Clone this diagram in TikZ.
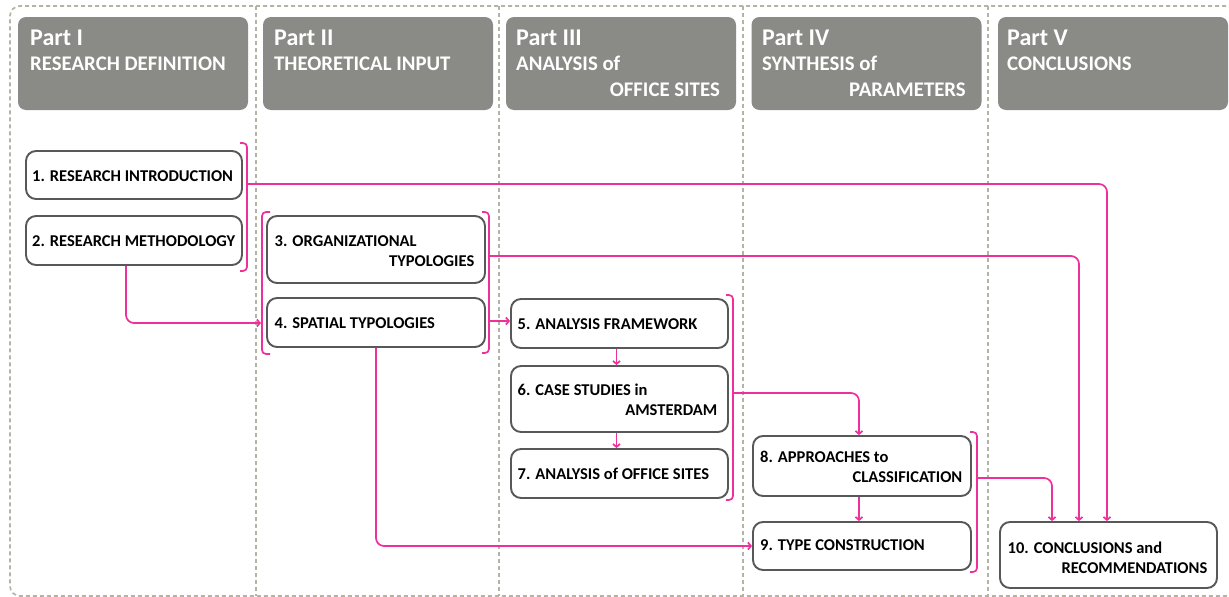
\documentclass[tikz,border=0pt]{standalone}
\usepackage{fontspec}
\setmainfont{Carlito}
\usetikzlibrary{arrows.meta}
\definecolor{hdr}{RGB}{138,138,134}
\definecolor{pinkline}{RGB}{238,48,155}
\definecolor{sepgray}{RGB}{180,180,166}
\definecolor{boxline}{RGB}{88,88,88}

\begin{document}
\begin{tikzpicture}[x=1pt,y=-1pt,
  header/.style={fill=hdr, rounded corners=8pt, minimum width=230pt, minimum height=93pt, inner sep=0pt},
  stepbox/.style={draw=boxline, line width=1.9pt, fill=white, rounded corners=10pt, inner sep=0pt},
  parttitle/.style={text=white, font=\bfseries\fontsize{24}{28}\selectfont, inner sep=0pt},
  partsub/.style={text=white, font=\bfseries\fontsize{20.8}{24}\selectfont, inner sep=0pt},
  lbl/.style={text=black, font=\bfseries\fontsize{16.5}{19}\selectfont, inner sep=0pt},
  sepline/.style={draw=sepgray, line width=1.7pt, dash pattern=on 4pt off 3pt},
  brk/.style={draw=pinkline, line width=1.7pt, rounded corners=4pt},
  link/.style={draw=pinkline, line width=1.7pt, rounded corners=8pt, -{Straight Barb[length=3pt,width=7pt]}}]

\useasboundingbox (0,0) rectangle (1229,597);

% frame and column separators
\draw[sepline, rounded corners=10pt] (1240,6) -- (10,6) -- (10,596) -- (1240,596);
\foreach \sx in {256,499,743,988}
  \draw[sepline] (\sx,6) -- (\sx,596);

% part headers
\node[header] (h1) at (133,63.5) {};
\node[header] (h2) at (378,63.5) {};
\node[header] (h3) at (621,63.5) {};
\node[header] (h4) at (866.5,63.5) {};
\node[header] (h5) at (1113,63.5) {};

\node[parttitle, anchor=base west] (p1) at (30,45) {Part I};
\node[partsub, anchor=base west] (s1) at (30,70) {RESEARCH DEFINITION};
\node[parttitle, anchor=base west] (p2) at (274,45) {Part II};
\node[partsub, anchor=base west] (s2) at (274,70) {THEORETICAL INPUT};
\node[parttitle, anchor=base west] (p3) at (516,45) {Part III};
\node[partsub, anchor=base west] (s3) at (516,70) {ANALYSIS of};
\node[partsub, anchor=base east] (s3b) at (720,96) {OFFICE SITES};
\node[parttitle, anchor=base west] (p4) at (762,45) {Part IV};
\node[partsub, anchor=base west] (s4) at (762,70) {SYNTHESIS of};
\node[partsub, anchor=base east] (s4b) at (966,96) {PARAMETERS};
\node[parttitle, anchor=base west] (p5) at (1007,45) {Part V};
\node[partsub, anchor=base west] (s5) at (1007,70) {CONCLUSIONS};

% chapter boxes
\node[stepbox, minimum width=216pt, minimum height=48pt] (b1) at (134,175) {};
\node[stepbox, minimum width=216pt, minimum height=49pt] (b2) at (134,240.5) {};
\node[stepbox, minimum width=218pt, minimum height=67pt] (b3) at (376,249.5) {};
\node[stepbox, minimum width=218pt, minimum height=49pt] (b4) at (376,322.5) {};
\node[stepbox, minimum width=217pt, minimum height=49pt] (b5) at (619.5,323.5) {};
\node[stepbox, minimum width=217pt, minimum height=66pt] (b6) at (619.5,399) {};
\node[stepbox, minimum width=217pt, minimum height=49pt] (b7) at (619.5,473.5) {};
\node[stepbox, minimum width=218pt, minimum height=60pt] (b8) at (862,466) {};
\node[stepbox, minimum width=218pt, minimum height=48pt] (b9) at (862,546) {};
\node[stepbox, minimum width=217pt, minimum height=66pt] (b10) at (1108.5,555) {};

\node[lbl, anchor=base west] (t1) at (32,181) {1. RESEARCH INTRODUCTION};
\node[lbl, anchor=base west] (t2) at (32,246) {2. RESEARCH METHODOLOGY};
\node[lbl, anchor=base west] (t3) at (274.5,246) {3. ORGANIZATIONAL};
\node[lbl, anchor=base east] (t3b) at (474.5,266) {TYPOLOGIES};
\node[lbl, anchor=base west] (t4) at (274.5,328.5) {4. SPATIAL TYPOLOGIES};
\node[lbl, anchor=base west] (t5) at (517.5,329) {5. ANALYSIS FRAMEWORK};
\node[lbl, anchor=base west] (t6) at (517.5,395) {6. CASE STUDIES in};
\node[lbl, anchor=base east] (t6b) at (717.5,415) {AMSTERDAM};
\node[lbl, anchor=base west] (t7) at (517.5,479) {7. ANALYSIS of OFFICE SITES};
\node[lbl, anchor=base west] (t8) at (760,462.5) {8. APPROACHES to};
\node[lbl, anchor=base east] (t8b) at (962.5,482.5) {CLASSIFICATION};
\node[lbl, anchor=base west] (t9) at (760,550.5) {9. TYPE CONSTRUCTION};
\node[lbl, anchor=base west] (t10) at (1007.5,553.5) {10. CONCLUSIONS and};
\node[lbl, anchor=base east] (t10b) at (1207.5,573.5) {RECOMMENDATIONS};

% group brackets
\draw[brk] (240,143) -- (247,143) -- (247,271) -- (240,271);
\draw[brk] (270,212) -- (262,212) -- (262,354) -- (270,354);
\draw[brk] (482,212) -- (489,212) -- (489,353) -- (482,353);
\draw[brk] (726,295) -- (733,295) -- (733,500) -- (726,500);
\draw[brk] (970,432) -- (977,432) -- (977,572) -- (970,572);

\coordinate (br12) at (247,184);
\coordinate (br34L) at (261,323);
\coordinate (br34Rhi) at (489,256);
\coordinate (br34Rlo) at (489,321);
\coordinate (br57) at (733,393);
\coordinate (br89) at (977,478);

% connectors
\draw[link] (br12) -| ([xshift=-1.5pt]b10.north);
\draw[link] (br34Rhi) -| ([xshift=-29.5pt]b10.north);
\draw[link] (br89) -| ([xshift=-56.5pt]b10.north);
\draw[link] ([xshift=-8pt]b2.south) |- (br34L);
\draw[link] (br34Rlo) -- (b5.west |- br34Rlo);
\draw[link] (b4.south) |- (b9.west);
\draw[link] ([xshift=-3pt]b5.south) -- ([xshift=-3pt]b6.north);
\draw[link] ([xshift=-3pt]b6.south) -- ([xshift=-3pt]b7.north);
\draw[link] (br57) -| ([xshift=-3pt]b8.north);
\draw[link] ([xshift=-3pt]b8.south) -- ([xshift=-3pt]b9.north);
\end{tikzpicture}
\end{document}
